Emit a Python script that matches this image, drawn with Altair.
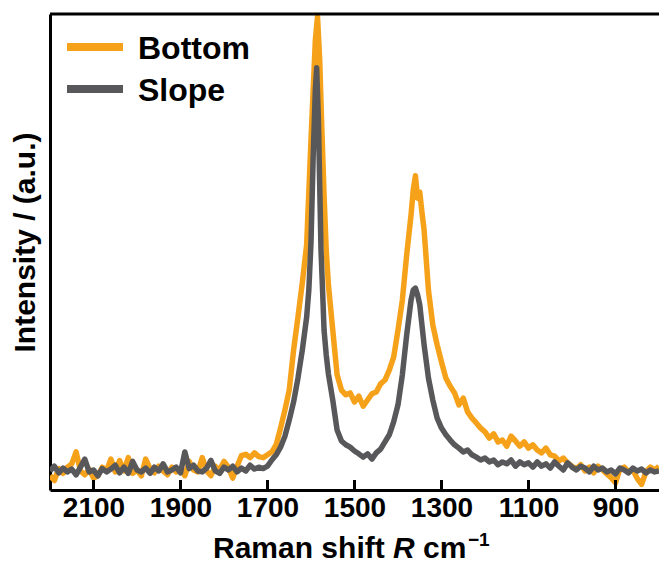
import altair as alt
import pandas as pd

FONT = "Liberation Sans"

# Raman spectra: (wavenumber cm^-1, intensity a.u.)
bottom = [
    (2200, 3.0), (2190, 2.0), (2180, 4.5), (2170, 3.5), (2160, 4.8), (2150, 5.5), (2140, 8.0), (2130, 4.0),
    (2120, 3.2), (2110, 4.4), (2100, 2.5), (2090, 3.0), (2080, 4.8), (2070, 4.0), (2060, 6.5), (2050, 3.8),
    (2040, 6.2), (2030, 4.0), (2020, 6.8), (2010, 3.5), (2000, 4.2), (1990, 3.0), (1980, 6.5), (1970, 4.5),
    (1960, 3.6), (1950, 5.0), (1940, 4.0), (1930, 3.2), (1920, 4.8), (1910, 3.8), (1900, 4.4), (1890, 3.0),
    (1880, 6.0), (1870, 4.2), (1860, 3.8), (1850, 6.8), (1840, 4.0), (1830, 3.0), (1820, 5.0), (1810, 4.2),
    (1800, 6.0), (1790, 4.8), (1780, 2.5), (1770, 5.0), (1760, 7.2), (1750, 7.5), (1740, 6.8), (1730, 7.8),
    (1720, 7.0), (1710, 6.8), (1700, 7.4), (1690, 8.0), (1680, 9.5), (1670, 13.0), (1660, 16.8), (1650, 21.0),
    (1640, 29.4), (1630, 36.3), (1620, 43.5), (1610, 51.5), (1600, 73.5), (1595, 84.0), (1590, 94.5),
    (1585, 99.4), (1580, 90.3), (1575, 75.6), (1570, 62.0), (1565, 50.4), (1560, 43.1), (1550, 33.6),
    (1540, 24.2), (1530, 21.0), (1520, 20.0), (1510, 20.4), (1500, 18.5), (1490, 19.7), (1480, 17.6),
    (1470, 18.9), (1460, 20.2), (1450, 20.6), (1440, 22.3), (1430, 23.1), (1420, 25.2), (1410, 27.9),
    (1400, 33.6), (1390, 39.9), (1380, 49.4), (1370, 57.8), (1365, 63.0), (1360, 66.0), (1355, 61.3),
    (1350, 62.6), (1345, 58.4), (1340, 54.6), (1330, 42.0), (1320, 34.7), (1310, 30.5), (1300, 26.9),
    (1290, 23.5), (1280, 21.8), (1270, 20.4), (1260, 17.9), (1250, 19.3), (1240, 16.4), (1230, 15.1),
    (1220, 14.1), (1210, 13.0), (1200, 12.2), (1190, 10.9), (1180, 11.8), (1170, 10.1), (1160, 10.5),
    (1150, 9.2), (1140, 11.3), (1130, 10.3), (1120, 9.2), (1110, 10.1), (1100, 8.8), (1090, 9.5),
    (1080, 8.4), (1070, 7.8), (1060, 8.8), (1050, 7.4), (1040, 7.1), (1030, 6.1), (1020, 6.7), (1010, 5.7),
    (1000, 5.0), (990, 4.4), (980, 5.3), (970, 4.0), (960, 4.8), (950, 3.6), (940, 5.0), (930, 4.2),
    (920, 3.4), (910, 2.6), (900, 1.5), (890, 4.4), (880, 4.8), (870, 3.8), (860, 4.2), (850, 2.4),
    (840, 1.2), (830, 3.8), (820, 4.8), (810, 4.2), (800, 5.0),
]

slope = [
    (2200, 4.0), (2190, 5.0), (2180, 3.6), (2170, 4.6), (2160, 3.8), (2150, 4.4), (2140, 3.2), (2130, 4.8),
    (2120, 6.5), (2110, 3.8), (2100, 4.2), (2090, 3.0), (2080, 4.5), (2070, 3.8), (2060, 4.4), (2050, 5.2),
    (2040, 3.6), (2030, 4.8), (2020, 3.5), (2010, 6.0), (2000, 4.2), (1990, 3.8), (1980, 4.6), (1970, 3.5),
    (1960, 4.8), (1950, 4.0), (1940, 5.5), (1930, 3.8), (1920, 4.2), (1910, 4.8), (1900, 3.6), (1890, 8.0),
    (1880, 4.5), (1870, 5.2), (1860, 4.0), (1850, 3.8), (1840, 4.6), (1830, 6.2), (1820, 4.0), (1810, 3.5),
    (1800, 4.8), (1790, 4.2), (1780, 5.0), (1770, 3.8), (1760, 4.6), (1750, 4.0), (1740, 5.2), (1730, 4.4),
    (1720, 4.8), (1710, 4.5), (1700, 5.0), (1690, 6.3), (1680, 7.4), (1670, 9.0), (1660, 11.3), (1650, 14.7),
    (1640, 18.5), (1630, 23.5), (1620, 29.4), (1610, 36.3), (1605, 42.0), (1600, 52.0), (1595, 70.0),
    (1590, 84.0), (1587, 88.7), (1583, 78.0), (1580, 64.0), (1577, 50.4), (1573, 41.0), (1570, 33.6),
    (1565, 28.4), (1560, 24.4), (1550, 18.9), (1540, 12.6), (1530, 10.3), (1520, 9.5), (1510, 9.0),
    (1500, 8.2), (1490, 7.6), (1480, 6.9), (1470, 7.6), (1460, 6.5), (1450, 7.8), (1440, 8.6), (1430, 10.1),
    (1420, 11.6), (1410, 14.3), (1400, 17.9), (1390, 24.2), (1380, 32.6), (1370, 39.9), (1365, 42.0),
    (1360, 42.4), (1355, 41.0), (1350, 38.9), (1340, 30.5), (1330, 23.5), (1320, 18.9), (1310, 15.1),
    (1300, 13.0), (1290, 11.6), (1280, 10.5), (1270, 9.5), (1260, 8.8), (1250, 8.0), (1240, 8.4), (1230, 7.4),
    (1220, 6.9), (1210, 6.3), (1200, 6.7), (1190, 5.9), (1180, 6.3), (1170, 5.3), (1160, 5.9), (1150, 5.5),
    (1140, 6.3), (1130, 5.0), (1120, 5.9), (1110, 5.3), (1100, 5.7), (1090, 4.8), (1080, 5.9), (1070, 5.0),
    (1060, 5.5), (1050, 4.6), (1040, 5.9), (1030, 5.0), (1020, 4.2), (1010, 5.7), (1000, 4.8), (990, 4.2),
    (980, 5.0), (970, 4.6), (960, 3.8), (950, 5.0), (940, 4.2), (930, 4.6), (920, 3.8), (910, 4.2),
    (900, 3.4), (890, 4.6), (880, 4.2), (870, 3.6), (860, 4.6), (850, 4.0), (840, 4.4), (830, 3.6),
    (820, 4.2), (810, 3.8), (800, 4.0),
]

tick_values = [2100, 1900, 1700, 1500, 1300, 1100, 900]
x_domain = [2200, 800]
y_domain = [0, 100]
series_names = ["Bottom", "Slope"]
series_colors = ["#F6A11A", "#58585A"]

W, H = 609, 476

rows = [{"shift": s, "intensity": v, "sample": "Bottom"} for s, v in bottom] + \
       [{"shift": s, "intensity": v, "sample": "Slope"} for s, v in slope]
df = pd.DataFrame(rows)

xscale = alt.Scale(domain=x_domain, nice=False, zero=False)
yscale = alt.Scale(domain=y_domain, nice=False, zero=False)
color = alt.Color("sample:N", scale=alt.Scale(domain=series_names, range=series_colors), legend=None)

xaxis = alt.Axis(values=tick_values, format="d", ticks=False, grid=False, domain=True,
                 domainColor="black", domainWidth=3, labelFont=FONT, labelFontSize=28,
                 labelFontWeight="bold", labelColor="black", labelPadding=4, labelFlush=False,
                 title=None)
yaxis = alt.Axis(ticks=False, labels=False, grid=False, domain=True, domainColor="black",
                 domainWidth=3, title="Intensity / (a.u.)", titleFont=FONT, titleFontSize=30,
                 titleFontWeight="bold", titleColor="black", titlePadding=10, titleY=228)

layers = []
for name in series_names:
    layers.append(
        alt.Chart(df).transform_filter(alt.datum.sample == name)
        .mark_line(strokeWidth=5.5, clip=True, strokeJoin="round")
        .encode(x=alt.X("shift:Q", scale=xscale, axis=xaxis),
                y=alt.Y("intensity:Q", scale=yscale, axis=yaxis),
                color=color)
    )

# inward ticks
layers.append(
    alt.Chart(pd.DataFrame({"tick": tick_values})).mark_rule(color="black", strokeWidth=3)
    .encode(x=alt.X("tick:Q", scale=xscale, axis=xaxis), y=alt.value(H), y2=alt.value(H - 10))
)
# top frame line
layers.append(
    alt.Chart(pd.DataFrame({"a": [0]})).mark_rule(color="black", strokeWidth=3)
    .encode(x=alt.value(0), x2=alt.value(W), y=alt.value(0))
)

# legend
legend_rows_y = [33, 75]
for name, col, ly in zip(series_names, series_colors, legend_rows_y):
    ldf = pd.DataFrame({"name": [name]})
    layers.append(
        alt.Chart(ldf).mark_rule(color=col, strokeWidth=8)
        .encode(x=alt.value(17), x2=alt.value(73), y=alt.value(ly))
    )
    layers.append(
        alt.Chart(ldf).mark_text(align="left", baseline="middle", font=FONT, fontSize=32,
                                 fontWeight="bold", color="black")
        .encode(x=alt.value(88), y=alt.value(ly + 2), text="name:N")
    )

# x-axis title with italic R and superscript
title_parts = [("Raman shift", "normal", 30, 163, 0),
               ("R", "italic", 30, 343, 0),
               ("cm", "normal", 30, 373, 0),
               ("\u22121", "normal", 19, 418, -12)]
for txt, style, size, tx, dy in title_parts:
    layers.append(
        alt.Chart(pd.DataFrame({"t": [txt]})).mark_text(
            align="left", baseline="alphabetic", font=FONT, fontSize=size, fontWeight="bold",
            fontStyle=style, color="black", dy=dy)
        .encode(x=alt.value(tx), y=alt.value(H + 68), text="t:N")
    )

chart = alt.layer(*layers).properties(
    width=W, height=H,
    autosize=alt.AutoSizeParams(type="none"),
    padding={"left": 50, "top": 14, "right": 0, "bottom": 78},
    background="white",
).configure_view(stroke=None)

chart.save("out.html", embed_options={"renderer": "svg", "actions": False})
